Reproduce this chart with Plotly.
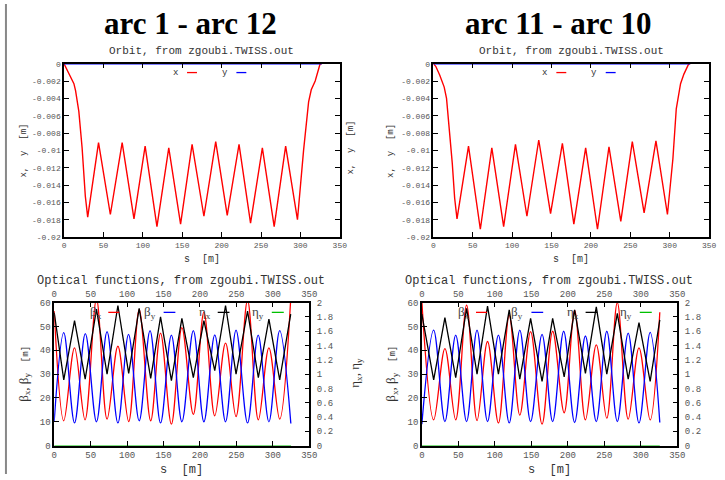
import plotly.graph_objects as go

W, H = 725, 480

# ---------------- data ----------------
titles = ["arc 1 - arc 12", "arc 11 - arc 10"]

# Orbit, left panel (arc 1 - arc 12)
orbL_s = [0, 6.25, 12.5, 14.6, 18.75, 22.9, 27, 30, 43.75, 58.75, 73.75, 88.75, 102.9, 117.9, 132.9,
          147.9, 162.5, 177.5, 192.5, 207.1, 222.1, 236.7, 251.7, 266.7, 281.25, 296.25, 304, 310.4,
          313.75, 318.75, 325, 327]
orbL_x = [0, -0.0012, -0.0023, -0.0031, -0.0055, -0.0097, -0.0153, -0.0177, -0.0091, -0.0174, -0.0091,
          -0.0179, -0.0095, -0.0188, -0.0097, -0.0185, -0.0093, -0.0176, -0.0090, -0.0175, -0.0093,
          -0.0184, -0.0097, -0.0188, -0.0095, -0.0180, -0.0100, -0.0044, -0.0030, -0.0020, 0, 0]
orbL_ys = [0, 50, 100, 150, 200, 250, 300, 327]
orbL_y = [0, 0, 0, 0, 0, 0, 0, 0]

# Orbit, right panel (arc 11 - arc 10)
orbR_s = [0, 3, 8, 13.75, 16.7, 20, 24, 27, 30, 44.6, 59.6, 74.2, 89.2, 104.2, 118.75, 133.75, 148.75,
          163.75, 178.3, 193.3, 208.3, 222.9, 237.9, 252.5, 267.5, 282.5, 297.1, 304, 308.3, 313.75,
          318, 324.2, 326]
orbR_x = [0, -0.0003, -0.0013, -0.0027, -0.0040, -0.0070, -0.0115, -0.0155, -0.0179, -0.0095, -0.0191,
          -0.0097, -0.0188, -0.0093, -0.0176, -0.0088, -0.0173, -0.0092, -0.0185, -0.0097, -0.0191,
          -0.0096, -0.0182, -0.0090, -0.0172, -0.0089, -0.0174, -0.0110, -0.0052, -0.0023, -0.0012, 0, 0]
orbR_ys = [0, 50, 100, 150, 200, 250, 300, 326]
orbR_y = [0, 0, 0, 0, 0, 0, 0, 0]

# Optical functions, left panel
optL_bx_s = [0, 13.1, 27.9, 42.3, 58.0, 72.5, 87.4, 102.2, 116.6, 132.4, 145.9, 160.8, 175.2, 190.9,
             205.4, 220.3, 235.1, 249.5, 265.3, 280.1, 294.6, 309.4, 324.5]
optL_bx = [56.5, 10.4, 41.0, 10.8, 61.5, 11.1, 41.7, 10.1, 57.1, 10.4, 47.2, 9.0, 49.5, 13.1, 56.0,
           12.5, 43.0, 12.2, 61.0, 10.8, 41.0, 11.1, 61.5]
optL_by_s = [0, 13.1, 27.9, 42.7, 58.0, 72.5, 87.4, 102.0, 116.6, 131.5, 145.9, 160.8, 175.2, 190.9,
             205.4, 220.3, 235.1, 249.5, 265.3, 279.9, 294.6, 309.4, 324.7]
optL_by = [10.3, 47.4, 9.5, 47.0, 10.0, 47.8, 9.5, 46.7, 10.4, 48.3, 9.5, 46.4, 10.0, 48.3, 10.0, 46.5,
           10.0, 48.5, 9.5, 46.4, 10.0, 48.3, 9.3]
optL_ex_s = [0, 13.1, 27.9, 42.5, 58.0, 72.5, 87.4, 102.2, 116.6, 132.4, 145.9, 160.8, 175.2, 190.9,
             205.4, 220.3, 235.1, 249.5, 265.3, 280.1, 294.6, 309.4, 324.5]
optL_ex = [1.86, 0.92, 1.75, 0.93, 1.91, 1.0, 1.96, 1.01, 1.92, 0.94, 1.8, 0.91, 1.78, 0.95, 1.75, 1.05,
           1.96, 1.0, 1.88, 0.95, 1.77, 0.92, 1.84]
optL_ey_s = [0, 50, 100, 150, 200, 250, 300, 325]
optL_ey = [0, 0, 0, 0, 0, 0, 0, 0]

# Optical functions, right panel
optR_bx_s = [0, 16.2, 31.6, 46.4, 61.3, 75.6, 90.0, 104.9, 119.7, 134.2, 149.0, 164.7, 179.2, 195.0,
             209.3, 224.1, 239.0, 253.4, 267.8, 282.7, 297.5, 312.8, 326.0]
optR_bx = [60.5, 10.8, 40.7, 10.8, 59.0, 10.5, 43.7, 9.5, 54.7, 12.8, 47.8, 9.0, 48.0, 13.8, 56.7, 10.8,
           42.3, 11.5, 60.0, 11.1, 41.0, 10.8, 56.0]
optR_by_s = [0, 16.2, 31.6, 46.4, 61.3, 75.6, 90.0, 104.9, 119.7, 134.2, 149.0, 164.7, 179.2, 194.3,
             209.3, 224.1, 239.0, 253.4, 267.8, 282.7, 297.5, 312.8, 326.0]
optR_by = [9.0, 48.5, 10.1, 46.4, 10.1, 48.5, 10.1, 46.4, 9.5, 48.5, 10.1, 46.7, 10.1, 48.0, 9.7, 46.0,
           10.1, 48.0, 10.1, 47.2, 9.5, 47.5, 9.7]
optR_ex_s = [0, 16.2, 31.6, 46.4, 61.3, 75.6, 90.0, 104.9, 119.7, 134.2, 149.0, 164.7, 179.2, 195.0,
             209.3, 224.1, 239.0, 253.4, 267.8, 282.7, 297.5, 312.8, 326.0]
optR_ex = [1.84, 0.92, 1.79, 0.95, 1.92, 1.0, 1.95, 1.0, 1.9, 0.93, 1.78, 0.9, 1.78, 0.96, 1.9, 1.01,
           1.94, 1.0, 1.85, 0.93, 1.72, 0.9, 1.76]
optR_ey_s = [0, 50, 100, 150, 200, 250, 300, 326]
optR_ey = [0, 0, 0, 0, 0, 0, 0, 0]

s_ticks = [0, 50, 100, 150, 200, 250, 300, 350]
orb_ticks = [0, -0.002, -0.004, -0.006, -0.008, -0.01, -0.012, -0.014, -0.016, -0.018, -0.02]
orb_ticktext = ["0", "-0.002", "-0.004", "-0.006", "-0.008", "-0.01", "-0.012", "-0.014", "-0.016",
                "-0.018", "-0.02"]
beta_ticks = [0, 10, 20, 30, 40, 50, 60]
eta_ticks = [0, 0.2, 0.4, 0.6, 0.8, 1.0, 1.2, 1.4, 1.6, 1.8, 2.0]
eta_ticktext = ["0", "0.2", "0.4", "0.6", "0.8", "1", "1.2", "1.4", "1.6", "1.8", "2"]

# ---------------- styling ----------------
MONO = "Liberation Mono"
SERIF = "Liberation Serif"
TICKC = "#555555"
RED, BLUE, BLACK, GREEN = "#ff0000", "#0000ff", "#000000", "#00c000"


def X(px):
    return px / W


def Y(py):
    return 1 - py / H


fig = go.Figure()

# orbit traces
fig.add_trace(go.Scatter(x=orbL_s, y=orbL_x, mode="lines", line=dict(color=RED, width=1.4), xaxis="x", yaxis="y"))
fig.add_trace(go.Scatter(x=orbL_ys, y=orbL_y, mode="lines", line=dict(color=BLUE, width=1.4), xaxis="x", yaxis="y"))
fig.add_trace(go.Scatter(x=orbR_s, y=orbR_x, mode="lines", line=dict(color=RED, width=1.4), xaxis="x2", yaxis="y2"))
fig.add_trace(go.Scatter(x=orbR_ys, y=orbR_y, mode="lines", line=dict(color=BLUE, width=1.4), xaxis="x2", yaxis="y2"))

# optics traces
for (bxs, bx, bys, by, exs, ex, eys, ey, xa, xt, ya, y2) in [
    (optL_bx_s, optL_bx, optL_by_s, optL_by, optL_ex_s, optL_ex, optL_ey_s, optL_ey, "x3", "x4", "y3", "y4"),
    (optR_bx_s, optR_bx, optR_by_s, optR_by, optR_ex_s, optR_ex, optR_ey_s, optR_ey, "x5", "x6", "y5", "y6"),
]:
    fig.add_trace(go.Scatter(x=bxs, y=bx, mode="lines", line=dict(color=RED, width=1.3, shape="spline", smoothing=1.0),
                             xaxis=xa, yaxis=ya))
    fig.add_trace(go.Scatter(x=bys, y=by, mode="lines", line=dict(color=BLUE, width=1.3, shape="spline", smoothing=1.0),
                             xaxis=xa, yaxis=ya))
    fig.add_trace(go.Scatter(x=exs, y=ex, mode="lines", line=dict(color=BLACK, width=1.3),
                             xaxis=xa, yaxis=y2))
    fig.add_trace(go.Scatter(x=eys, y=ey, mode="lines", line=dict(color=GREEN, width=1.3),
                             xaxis=xt, yaxis=y2))

common = dict(showgrid=False, zeroline=False, showline=True, linecolor="black", linewidth=1.5,
              ticks="inside", ticklen=5, tickwidth=1, tickcolor="black")

orb_boxes = [(62, 342), (437, 717)]
orb_y = (61, 238)
opt_boxes = [(52, 311), (425.3, 684.7)]
opt_y = (305, 451)

layout = dict(
    width=W, height=H, margin=dict(l=0, r=0, t=0, b=0),
    paper_bgcolor="white", plot_bgcolor="white", showlegend=False,
)

# orbit axes
for i, (x0, x1) in enumerate(orb_boxes):
    xn = "xaxis" if i == 0 else "xaxis2"
    yn = "yaxis" if i == 0 else "yaxis2"
    xr = "x" if i == 0 else "x2"
    yr = "y" if i == 0 else "y2"
    layout[xn] = dict(common, domain=[X(x0), X(x1)], anchor=yr, range=[0, 350], tickvals=s_ticks,
                      mirror="ticks", tickfont=dict(family=MONO, size=8, color=TICKC))
    layout[yn] = dict(common, domain=[Y(orb_y[1]), Y(orb_y[0])], anchor=xr, range=[-0.02, 0],
                      tickvals=orb_ticks, ticktext=orb_ticktext, mirror="ticks",
                      tickfont=dict(family=MONO, size=8, color=TICKC))

# optics axes
for i, (x0, x1) in enumerate(opt_boxes):
    xb, xt, yl, yr_ = (["xaxis3", "xaxis4", "yaxis3", "yaxis4"] if i == 0 else
                       ["xaxis5", "xaxis6", "yaxis5", "yaxis6"])
    xbr, xtr, ylr = (["x3", "x4", "y3"] if i == 0 else ["x5", "x6", "y5"])
    tf = dict(family=MONO, size=9, color=TICKC)
    layout[xb] = dict(common, domain=[X(x0), X(x1)], anchor=ylr, range=[0, 350], tickvals=s_ticks,
                      side="bottom", tickfont=tf)
    layout[xt] = dict(common, overlaying=xbr, anchor=ylr, range=[0, 350], tickvals=s_ticks,
                      side="top", tickfont=tf)
    layout[yl] = dict(common, domain=[Y(opt_y[1]), Y(opt_y[0])], anchor=xbr, range=[0, 60],
                      tickvals=beta_ticks, side="left", tickfont=tf)
    layout[yr_] = dict(common, overlaying=ylr, anchor=xbr, range=[0, 2], tickvals=eta_ticks,
                       ticktext=eta_ticktext, side="right", tickfont=tf, ticklabelstandoff=4)

fig.update_layout(**layout)

ann = []
shapes = []


def txt(px, py, text, size, family=MONO, color="#333333", angle=0, bold=False, xanchor="center"):
    ann.append(dict(x=X(px), y=Y(py), xref="paper", yref="paper", text=("<b>%s</b>" % text) if bold else text,
                    showarrow=False, xanchor=xanchor, yanchor="middle", textangle=angle,
                    font=dict(family=family, size=size, color=color)))


# column-wise texts (offset of the right column)
for i, off in enumerate([0, 375]):
    txt(190 + off - (0 if i == 0 else 1), 20, titles[i], 31, family=SERIF, color="black", bold=True)
    txt(202 + off, 48, "Orbit, from zgoubi.TWISS.out", 11)
    txt(202 + off, 261, "s  [m]", 10)
    txt(21 + off - (0 if i == 0 else 2), 150, "x,  y  [m]", 9, angle=-90)
    if i == 0:
        txt(353, 147, "x,  y  [m]", 9, angle=-90)
    ox = 0 if i == 0 else 373.5
    txt(181 + ox, 283, "Optical functions, from zgoubi.TWISS.out", 12)
    txt(181 + ox, 476, "s  [m]", 12)
    txt(21 + ox, 378,
        '<span style="font-family:Liberation Serif;font-size:13px">&#946;<sub>x</sub>, &#946;<sub>y</sub></span>  [m]',
        9, angle=-90)
    if i == 0:
        txt(358, 377, "&#951;<sub>x</sub>, &#951;<sub>y</sub>", 13, family=SERIF, angle=-90)

# legends (text before sample, gnuplot-style)
orb_leg = [("x", RED, 0.421, 0.446, 0.482), ("y", BLUE, 0.600, 0.625, 0.661)]
opt_leg = [("&#946;<sub>x</sub>", RED, 0.197, 0.212, 0.255),
           ("&#946;<sub>y</sub>", BLUE, 0.405, 0.429, 0.475),
           ("&#951;<sub>x</sub>", BLACK, 0.622, 0.641, 0.687),
           ("&#951;<sub>y</sub>", GREEN, 0.830, 0.853, 0.900)]
for xr, yr in [("x", "y"), ("x2", "y2")]:
    for t, c, te, a, b in orb_leg:
        ann.append(dict(x=te, y=0.949, xref=xr + " domain", yref=yr + " domain", text=t, showarrow=False,
                        xanchor="right", yanchor="middle", font=dict(family=MONO, size=9, color="#333333")))
        shapes.append(dict(type="line", xref=xr + " domain", yref=yr + " domain", x0=a, x1=b, y0=0.949, y1=0.949,
                           line=dict(color=c, width=1.3)))
for xr, yr in [("x3", "y3"), ("x5", "y5")]:
    for t, c, te, a, b in opt_leg:
        ann.append(dict(x=te, y=0.932, xref=xr + " domain", yref=yr + " domain", text=t, showarrow=False,
                        xanchor="right", yanchor="middle", font=dict(family=SERIF, size=13, color="#444444")))
        shapes.append(dict(type="line", xref=xr + " domain", yref=yr + " domain", x0=a, x1=b, y0=0.932, y1=0.932,
                           line=dict(color=c, width=1.3)))

# left border line of the montage
shapes.append(dict(type="line", xref="paper", yref="paper", x0=X(3), x1=X(3), y0=0, y1=1,
                   line=dict(color="#888888", width=2)))

fig.update_layout(annotations=ann, shapes=shapes)
fig.write_html("out.html")
